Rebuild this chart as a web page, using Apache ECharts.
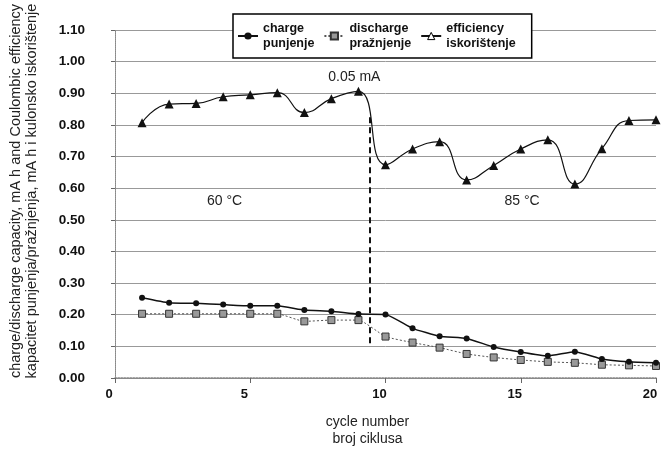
<!DOCTYPE html>
<html>
<head>
<meta charset="utf-8">
<script src="https://cdn.jsdelivr.net/npm/echarts@6/dist/echarts.min.js"></script>
<style>
	html, body { margin: 0; padding: 0; background: #fff; }
	#chart { width: 665px; height: 458px; }
</style>
</head>
<body>
<div id="chart"></div>
<script>
// podaci ocitani sa slike
var cycles = [1, 2, 3, 4, 5, 6, 7, 8, 9, 10, 11, 12, 13, 14, 15, 16, 17, 18, 19, 20];
var charge = [0.254, 0.238, 0.236, 0.232, 0.228, 0.228, 0.215, 0.211, 0.202, 0.201, 0.157, 0.132, 0.125, 0.098, 0.082, 0.070, 0.083, 0.060, 0.051, 0.048];
var discharge = [0.203, 0.203, 0.203, 0.203, 0.203, 0.203, 0.179, 0.183, 0.183, 0.131, 0.112, 0.096, 0.076, 0.065, 0.057, 0.051, 0.048, 0.042, 0.040, 0.038];
var efficiency = [0.807, 0.866, 0.868, 0.889, 0.895, 0.902, 0.839, 0.883, 0.906, 0.674, 0.724, 0.747, 0.626, 0.672, 0.724, 0.753, 0.613, 0.725, 0.814, 0.816];

var seriesNames = ['charge\npunjenje', 'discharge\npražnjenje', 'efficiency\niskorištenje'];
// napomene na grafu: [x, y, tekst]
var notes = [[8.85, 0.951, '0.05 mA'], [4.05, 0.558, '60 °C'], [15.05, 0.558, '85 °C']];
var switchCycle = 9.4;
var switchRange = [0.11, 0.83];

function pairs(ys) {
	return cycles.map(function(x, i) {
		return [x, ys[i]];
	});
}

var font = 'Liberation Sans, Arial, sans-serif';
var myChart = echarts.init(document.getElementById('chart'), null, { renderer: 'canvas' });

var option = {
	animation: false,
	backgroundColor: '#fff',
	textStyle: { fontFamily: font },
	grid: {
		left: 112,
		right: 9,
		top: 30,
		bottom: 80
	},
	legend: {
		left: 233,
		top: 14,
		itemGap: 9,
		itemWidth: 20,
		itemHeight: 9,
		padding: [7, 16, 7, 4],
		backgroundColor: '#fff',
		borderColor: '#000',
		borderWidth: 1.5,
		borderRadius: 0,
		textStyle: {
			fontFamily: font,
			fontSize: 12.5,
			fontWeight: 'bold',
			color: '#111',
			lineHeight: 15
		},
		data: [
			{ name: seriesNames[0] },
			{ name: seriesNames[1] },
			{ name: seriesNames[2], itemStyle: { color: '#fff', borderColor: '#000', borderWidth: 1 } }
		]
	},
	xAxis: [{
		type: 'value',
		min: 0,
		max: 20,
		interval: 5,
		name: 'cycle number\nbroj ciklusa',
		nameLocation: 'middle',
		nameGap: 36,
		nameTextStyle: {
			fontFamily: font,
			fontSize: 14,
			color: '#222',
			lineHeight: 17,
			padding: [0, 36, 0, 0]
		},
		axisLine: { lineStyle: { color: '#888', width: 1.5, type: 'dotted' } },
		axisTick: { show: true, length: 5, lineStyle: { color: '#666' } },
		axisLabel: {
			fontFamily: font,
			fontSize: 13,
			fontWeight: 'bold',
			color: '#111',
			margin: 10,
			padding: [0, 12, 0, 0]
		},
		splitLine: { show: false }
	}, {
		type: 'value',
		position: 'top',
		min: 0,
		max: 20,
		axisLine: { show: true, lineStyle: { color: '#888', width: 1, type: 'dotted' } },
		axisTick: { show: false },
		axisLabel: { show: false },
		splitLine: { show: false }
	}],
	yAxis: [{
		type: 'value',
		min: 0,
		max: 1.1,
		interval: 0.1,
		name: 'charge/discharge capacity, mA h and Coulombic efficiency\nkapacitet punjenja/pražnjenja, mA h i kulonsko iskorištenje',
		nameLocation: 'middle',
		nameRotate: 90,
		nameGap: 75,
		nameTextStyle: {
			fontFamily: font,
			fontSize: 14.5,
			color: '#222',
			lineHeight: 16,
			padding: [0, 0, 0, 26]
		},
		axisLine: { show: true, lineStyle: { color: '#888', width: 1, type: 'dotted' } },
		axisTick: { show: true, length: 4, lineStyle: { color: '#666' } },
		axisLabel: {
			fontFamily: font,
			fontSize: 13.5,
			fontWeight: 'bold',
			color: '#111',
			margin: 30,
			formatter: function(v) {
				return v.toFixed(2);
			}
		},
		splitLine: { show: true, lineStyle: { color: '#999', width: 1 } }
	}, {
		type: 'value',
		position: 'right',
		min: 0,
		max: 1.1,
		axisLine: { show: true, lineStyle: { color: '#888', width: 1, type: 'dotted' } },
		axisTick: { show: false },
		axisLabel: { show: false },
		splitLine: { show: false }
	}],
	series: [{
		name: seriesNames[0],
		type: 'line',
		data: pairs(charge),
		smooth: 0.15,
		symbol: 'circle',
		symbolSize: 6,
		itemStyle: { color: '#111' },
		lineStyle: { color: '#111', width: 1.5 },
		z: 4
	}, {
		name: seriesNames[1],
		type: 'line',
		data: pairs(discharge),
		smooth: 0.15,
		symbol: 'rect',
		symbolSize: 7,
		itemStyle: { color: '#999', borderColor: '#333', borderWidth: 1 },
		lineStyle: { color: '#555', width: 1, type: [2, 2] },
		z: 3
	}, {
		name: seriesNames[2],
		type: 'line',
		data: pairs(efficiency),
		smooth: 0.5,
		symbol: 'triangle',
		symbolSize: 9,
		itemStyle: { color: '#111' },
		lineStyle: { color: '#111', width: 1.2 },
		z: 5,
		markLine: {
			silent: true,
			symbol: 'none',
			label: { show: false },
			lineStyle: { color: '#111', width: 2, type: [6, 4] },
			data: [[
				{ coord: [switchCycle, switchRange[0]] },
				{ coord: [switchCycle, switchRange[1]] }
			]]
		},
		markPoint: {
			silent: true,
			symbol: 'circle',
			symbolSize: 1,
			itemStyle: { color: 'rgba(0,0,0,0)' },
			label: {
				show: true,
				position: 'inside',
				fontFamily: font,
				fontSize: 14,
				color: '#222',
				formatter: function(p) {
					return p.name;
				}
			},
			data: notes.map(function(n) {
				return { name: n[2], coord: [n[0], n[1]] };
			})
		}
	}]
};

myChart.setOption(option, true);
</script>
</body>
</html>
